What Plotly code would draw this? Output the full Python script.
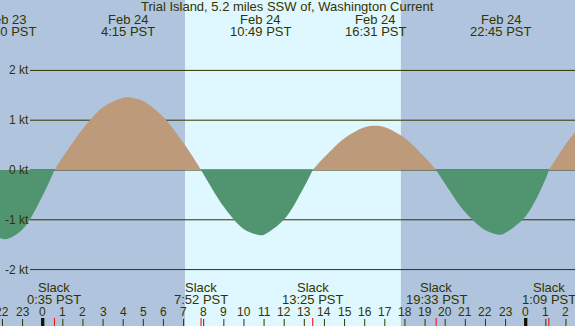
import plotly.graph_objects as go

# ---- data (hours since Feb 24 00:00 PST, current in knots) ----
times = [-2.2, -1.83, -1.0, 0.0, 0.583, 1, 2, 3, 4, 4.25, 5, 6, 7, 7.867,
         8, 9, 10, 10.817, 11, 12, 13, 13.417, 14, 15, 16, 16.517, 17, 18, 19, 19.55,
         20, 21, 22, 22.75, 23, 24, 25, 25.15, 26, 26.5, 27]
current = [-1.35, -1.39, -1.19, -0.51, 0, 0.26, 0.83, 1.26, 1.45, 1.46, 1.38, 1.06, 0.54, 0,
           -0.09, -0.74, -1.19, -1.31, -1.30, -0.99, -0.33, 0, 0.26, 0.64, 0.86, 0.89, 0.86, 0.64, 0.25, 0,
           -0.28, -0.85, -1.21, -1.30, -1.26, -0.93, -0.17, 0, 0.52, 0.78, 0.98]

max_times = [-1.833, 4.25, 10.817, 16.517, 22.75]
max_dates = ["Feb 23", "Feb 24", "Feb 24", "Feb 24", "Feb 24"]
max_labels = ["22:10 PST", "4:15 PST", "10:49 PST", "16:31 PST", "22:45 PST"]

slack_times = [0.583, 7.867, 13.417, 19.55, 25.15]
slack_labels = ["0:35 PST", "7:52 PST", "13:25 PST", "19:33 PST", "1:09 PST"]

hour_ticks = list(range(-2, 27))
hour_labels = [str(h % 24) for h in hour_ticks]

sunrise = 7.07
sunset = 17.8

grid_levels = [-2, -1, 0, 1, 2]
grid_labels = ["-2 kt", "-1 kt", "0 kt", "1 kt", "2 kt"]

title = "Trial Island, 5.2 miles SSW of, Washington Current"

# ---- styles ----
W, H = 575, 326
NIGHT = "#b0c4de"
DAY = "#dff7fe"
FLOOD = "#bd9a7a"
EBB = "#509470"
INK = "#333300"
FONT = "Liberation Sans, Arial, sans-serif"
XR = [-2.122, 26.45]
YR = [-3.133, 3.414]

fig = go.Figure()

# split into lobes at slack (zero) points
segs = []
cur = [[], []]
for t, v in zip(times, current):
    cur[0].append(t)
    cur[1].append(v)
    if v == 0 and len(cur[0]) > 1:
        segs.append(cur)
        cur = [[t], [v]]
if len(cur[0]) > 1:
    segs.append(cur)

for xs, ys in segs:
    col = FLOOD if sum(ys) > 0 else EBB
    fig.add_trace(go.Scatter(x=xs, y=ys, mode="lines",
                             line=dict(width=0, color=col, shape="spline", smoothing=1),
                             fill="tozeroy", fillcolor=col, hoverinfo="skip", showlegend=False))

shapes = []
shapes.append(dict(type="rect", xref="x", yref="paper", x0=sunrise, x1=sunset, y0=0, y1=1,
                   fillcolor=DAY, line=dict(width=0), layer="below"))
for g in grid_levels:
    shapes.append(dict(type="line", xref="paper", yref="y", x0=30 / W, x1=1, y0=g, y1=g,
                       line=dict(color=INK, width=1), layer="below"))
# hour ticks
for h in hour_ticks:
    if h % 24 == 0:
        shapes.append(dict(type="line", xref="x", yref="paper", x0=h, x1=h, y0=0, y1=8 / H,
                           line=dict(color="#111100", width=3.3)))
    else:
        shapes.append(dict(type="line", xref="x", yref="paper", x0=h, x1=h, y0=0, y1=7 / H,
                           line=dict(color=INK, width=1)))
for s in slack_times:
    shapes.append(dict(type="line", xref="x", yref="paper", x0=s, x1=s, y0=0, y1=8 / H,
                       line=dict(color="#ff0000", width=1)))

ann = []


def py(px):
    return 1 - px / H


def txt(text, x, xref, y, yref, size, xanchor="center"):
    ann.append(dict(text=text, x=x, xref=xref, y=y, yref=yref, showarrow=False,
                    xanchor=xanchor, yanchor="middle", borderpad=0, borderwidth=0,
                    font=dict(family=FONT, size=size, color=INK)))


txt(title, 0.5, "paper", py(7), "paper", 13)
for t, d, l in zip(max_times, max_dates, max_labels):
    txt(d, t, "x", py(19.3), "paper", 13)
    txt(l, t, "x", py(31.7), "paper", 13)
for t, l in zip(slack_times, slack_labels):
    txt("Slack", t, "x", py(287.3), "paper", 13)
    txt(l, t, "x", py(299.3), "paper", 13)
for h, l in zip(hour_ticks, hour_labels):
    txt(l, h, "x", py(311.7), "paper", 12)
for g, l in zip(grid_levels, grid_labels):
    txt(l, 28.5 / W, "paper", g, "y", 12, xanchor="right")

fig.update_layout(
    width=W, height=H, margin=dict(l=0, r=0, t=0, b=0),
    paper_bgcolor=NIGHT, plot_bgcolor=NIGHT,
    xaxis=dict(range=XR, visible=False, fixedrange=True),
    yaxis=dict(range=YR, visible=False, fixedrange=True),
    shapes=shapes, annotations=ann, showlegend=False,
)
fig.write_html("out.html", config={"displayModeBar": False},
               post_script="document.body.style.margin='0';document.body.style.overflow='hidden';")
